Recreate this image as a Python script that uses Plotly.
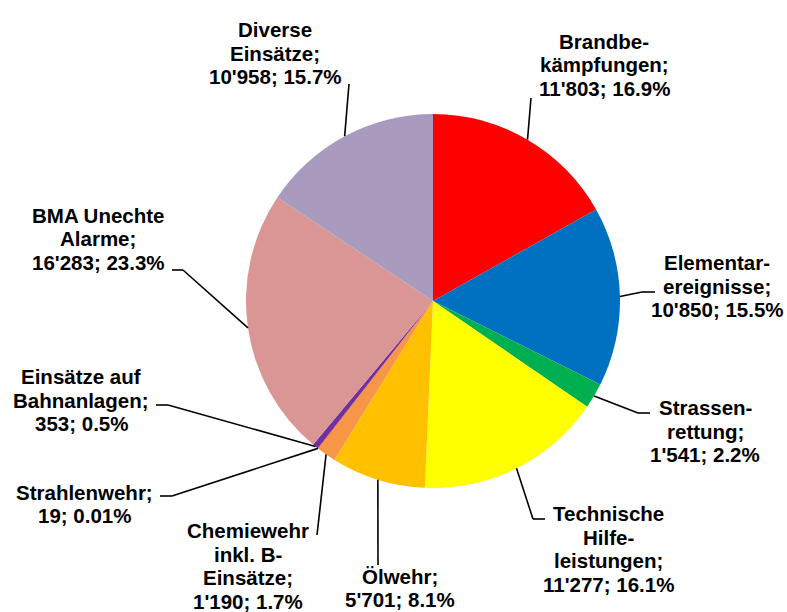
import math
import plotly.graph_objects as go

# ---- data ----
categories = [
    "Brandbekämpfungen", "Elementarereignisse", "Strassenrettung",
    "Technische Hilfeleistungen", "Ölwehr", "Chemiewehr inkl. B-Einsätze",
    "Strahlenwehr", "Einsätze auf Bahnanlagen", "BMA Unechte Alarme",
    "Diverse Einsätze",
]
values = [11803, 10850, 1541, 11277, 5701, 1190, 19, 353, 16283, 10958]
label_lines = [
    ["Brandbe-", "kämpfungen;", "11'803; 16.9%"],
    ["Elementar-", "ereignisse;", "10'850; 15.5%"],
    ["Strassen-", "rettung;", "1'541; 2.2%"],
    ["Technische", "Hilfe-", "leistungen;", "11'277; 16.1%"],
    ["Ölwehr;", "5'701; 8.1%"],
    ["Chemiewehr", "inkl. B-", "Einsätze;", "1'190; 1.7%"],
    ["Strahlenwehr;", "19; 0.01%"],
    ["Einsätze auf", "Bahnanlagen;", "353; 0.5%"],
    ["BMA Unechte", "Alarme;", "16'283; 23.3%"],
    ["Diverse", "Einsätze;", "10'958; 15.7%"],
]
colors = ["#FF0000", "#0070C0", "#00B050", "#FFFF00", "#FFC000",
          "#F79646", "#C00000", "#7030A0", "#D99694", "#A99BBE"]

# ---- layout (pixels) ----
W, H = 787, 612
CX, CY, R = 433, 301, 187
LINE_H = 23.5
# label block centres (px) and leader-line waypoints (px) after leaving the pie
label_pos = [(604, 65), (717, 286), (705, 431), (608, 549), (400, 588),
             (248, 566), (84, 504), (81, 400), (98, 239), (275, 53)]
leader_pts = [
    [(531, 98)],
    [(642, 292), (655, 292)],
    [(638, 413), (650, 413)],
    [(533, 519), (545, 519)],
    [(378, 565)],
    [(317, 535)],
    [(172, 496), (160, 496)],
    [(168, 405), (156, 405)],
    [(183, 270), (172, 270)],
    [(349, 84)],
]

def px(x):
    return x / W

def py(y):
    return 1 - y / H

fig = go.Figure(go.Pie(
    labels=categories, values=values, sort=False, direction="clockwise",
    rotation=0, textinfo="none", hoverinfo="label+value+percent",
    marker=dict(colors=colors, line=dict(width=0)),
    domain=dict(x=[px(CX - R), px(CX + R)], y=[py(CY + R), py(CY - R)]),
    showlegend=False,
))

total = sum(values)
cum = 0
shapes = []
annotations = []
for i, v in enumerate(values):
    mid = (cum + v / 2) / total
    cum += v
    ang = 2 * math.pi * mid
    sx = CX + R * math.sin(ang)
    sy = CY - R * math.cos(ang)
    pts = [(sx, sy)] + leader_pts[i]
    for (x0, y0), (x1, y1) in zip(pts[:-1], pts[1:]):
        shapes.append(dict(type="line", xref="paper", yref="paper",
                           x0=px(x0), y0=py(y0), x1=px(x1), y1=py(y1),
                           line=dict(color="black", width=1.6)))
    lx, ly = label_pos[i]
    n = len(label_lines[i])
    for k, line in enumerate(label_lines[i]):
        yk = ly + (k - (n - 1) / 2) * LINE_H
        annotations.append(dict(
            text=line, x=px(lx), y=py(yk), xref="paper", yref="paper",
            xanchor="center", yanchor="middle", showarrow=False,
            align="center",
            font=dict(family="Liberation Sans, Arial, sans-serif", size=20.5,
                      color="black", weight="bold"),
        ))

fig.update_layout(
    width=W, height=H, margin=dict(l=0, r=0, t=0, b=0),
    paper_bgcolor="white", plot_bgcolor="white",
    shapes=shapes, annotations=annotations,
)
fig.write_html("out.html", config={"displayModeBar": False},
               post_script="document.body.style.margin='0';"
                           "document.body.style.overflow='hidden';")
